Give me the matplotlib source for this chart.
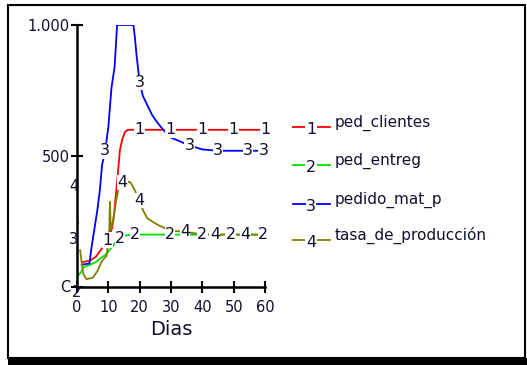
import numpy as np
import matplotlib.pyplot as plt
from matplotlib.patches import Rectangle

plt.rcParams['font.family'] = ['DejaVu Sans']

# series (dias, valor)
dias_cli = [1.5, 4, 6, 7.5, 9, 10.5, 11.2, 11.8, 13, 13.7, 14.4, 15.3, 16.3, 60]
ped_clientes = [95, 100, 115, 140, 165, 200, 225, 275, 427, 523, 561, 592, 600, 600]

dias_ent = [0, 1.5, 2, 4, 6, 7.5, 9, 11, 13, 15, 17, 60]
ped_entreg = [38, 60, 75, 84, 95, 110, 122, 150, 180, 195, 200, 200]

dias_mat = [1.5, 4, 4.5, 5.5, 6.5, 7.3, 8, 9, 10, 11, 12, 12.8, 18, 18.5, 19,
            20, 21, 22.4, 24, 25.5, 27.5, 30, 36, 40, 45, 60]
pedido_mat_p = [85, 90, 140, 217, 294, 370, 466, 520, 610, 760, 840, 1000, 1000, 950, 885,
                780, 730, 695, 656, 630, 600, 570, 540, 525, 520, 520]

# nan = short gap in the drawn line near day 0
dias_tasa = [0, 0.4, 0.6, 1, 2, 3, 5, 6.5, 8, 9.5, 10.3, 10.5, 10.8, 11.5, 12.5, 13.5, 15, 17,
             18, 20, 21, 22.4, 24, 26, 28, 30, 35, 40, 60]
tasa_de_produccion = [250, 245, np.nan, 140, 50, 30, 35, 60, 100, 120, 218, 325, 220, 250, 330,
                      390, 405, 400, 380, 330, 295, 263, 250, 236, 225, 215, 210, 200, 200]

nombres = ['ped_clientes', 'ped_entreg', 'pedido_mat_p', 'tasa_de_producción']
colores = ['#ff0000', '#00e000', '#0000ff', '#808000']
# days where the series number is written on the line
marcas = [[9.6, 20, 29.7, 40, 50, 60],
          [13.7, 18.5, 29.7, 40, 49, 59.5],
          [9, 20, 36, 45, 54.6, 59.5],
          [14.4, 20, 34.5, 44, 53.7]]

series = [(dias_cli, ped_clientes), (dias_ent, ped_entreg),
          (dias_mat, pedido_mat_p), (dias_tasa, tasa_de_produccion)]

fig = plt.figure(figsize=(5.27, 3.65), dpi=100)
ax = fig.add_axes([77 / 527, 78 / 365, 188 / 527, 262 / 365])

txtcol = '#101030'
for i, ((x, y), c) in enumerate(zip(series, colores)):
    ax.plot(x, y, color=c, lw=1.3, zorder=2)
    xs = np.array(x, dtype=float)
    ys_ = np.array(y, dtype=float)
    ok = ~np.isnan(ys_)
    for d in marcas[i]:
        v = np.interp(d, xs[ok], ys_[ok])
        ax.text(d, v, str(i + 1), color=txtcol, fontsize=11.5, ha='center', va='center',
                bbox=dict(facecolor='white', edgecolor='none', pad=0.2), zorder=3, clip_on=False)

ax.set_xlim(0, 60)
ax.set_ylim(0, 1000)
ax.set_xticks(range(0, 61, 10))
ax.set_yticks([0, 500, 1000])
ax.set_yticklabels(['', '500', '1.000'])
for s in ['top', 'right']:
    ax.spines[s].set_visible(False)
for s in ['left', 'bottom']:
    ax.spines[s].set_linewidth(1.8)
ax.tick_params(direction='inout', length=8, width=1.5, labelsize=10.5, labelcolor=txtcol)
ax.tick_params(axis='x', pad=5)
ax.tick_params(axis='y', pad=1)
ax.set_xlabel('Dias', fontsize=14, color=txtcol, labelpad=4)
ax.patch.set_visible(False)

# scale markers on the left axis
for lbl, v in [('4', 385), ('3', 180)]:
    ax.text(-1.1, v, lbl, color=txtcol, fontsize=10.5, ha='center', va='center', clip_on=False)
ax.text(-3.6, 0, 'C', color=txtcol, fontsize=10.5, ha='center', va='center', clip_on=False)
ax.text(0, -22, '2', color=txtcol, fontsize=10.5, ha='center', va='center', clip_on=False)

# legend
ys = [127, 165, 204, 240]
for k, (nombre, c, yy) in enumerate(zip(nombres, colores, ys)):
    yf = 1 - yy / 365
    fig.add_artist(plt.Line2D([293 / 527, 330 / 527], [yf, yf], color=c, lw=1.3))
    fig.text(311 / 527, yf - 0.008, str(k + 1), color=txtcol, fontsize=11.5,
             ha='center', va='center',
             bbox=dict(facecolor='white', edgecolor='none', pad=0.3))
    fig.text(335 / 527, yf + 0.012, nombre, color=txtcol, fontsize=11, ha='left', va='center')

# frame with shadow
fig.add_artist(Rectangle((8 / 527, 1 - 358 / 365), 517 / 527, 353 / 365,
                         transform=fig.transFigure, fill=False, ec='black', lw=1.5))
fig.add_artist(Rectangle((8 / 527, 0), 519 / 527, 7 / 365,
                         transform=fig.transFigure, fc='black', ec='none'))

fig.savefig('out.png', dpi=100)
